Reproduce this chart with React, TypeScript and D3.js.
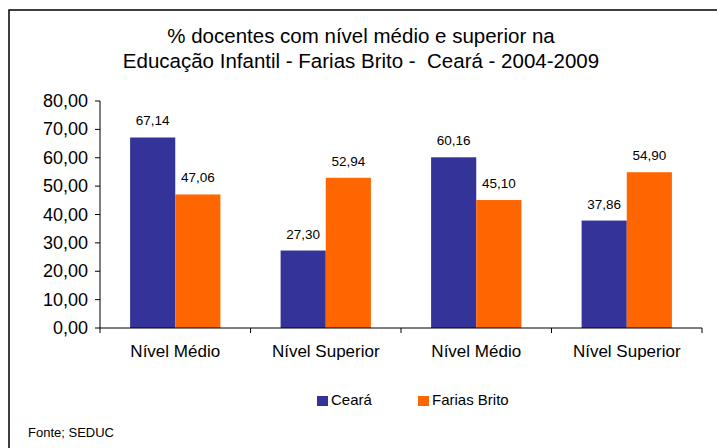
import React from "react";
import * as d3 from "d3";

const categories = ["Nível Médio", "Nível Superior", "Nível Médio", "Nível Superior"];
const seriesNames = ["Ceará", "Farias Brito"];
const cearaValues = [67.14, 27.3, 60.16, 37.86];
const fariasBritoValues = [47.06, 52.94, 45.1, 54.9];
const yTicks = [0, 10, 20, 30, 40, 50, 60, 70, 80];
const colors = ["#333399", "#FF6600"];
const titleLines = [
  "% docentes com nível médio e superior na",
  "Educação Infantil - Farias Brito -  Ceará - 2004-2009",
];
const sourceText = "Fonte; SEDUC";

const FONT = "'Liberation Sans', Arial, Helvetica, sans-serif";
const fmt = (v: number) => v.toFixed(2).replace(".", ",");

export default function App() {
  const W = 717, H = 448;
  const left = 100, right = 702, top = 101, bottom = 328;
  const idx = categories.map((_, i) => String(i));
  const x0 = d3.scaleBand<string>().domain(idx).range([left, right]).paddingInner(0.4).paddingOuter(0.2);
  const x1 = d3.scaleBand<string>().domain(seriesNames).range([0, x0.bandwidth()]);
  const y = d3.scaleLinear().domain([0, 80]).range([bottom, top]);
  const step = x0.step();
  const boundaries = idx.map((k) => (x0(k) as number) - step * 0.2).concat([right]);
  const series = [cearaValues, fariasBritoValues];

  return (
    <svg width={W} height={H} style={{ position: "absolute", left: 0, top: 0, background: "#fff" }} fontFamily={FONT}>
      <rect x={0} y={0} width={W} height={H} fill="#fff" />
      <rect x={9} y={10} width={W + 20} height={H + 20} fill="none" stroke="#000" strokeWidth={1.5} />
      {titleLines.map((t, i) => (
        <text key={i} x={361} y={43 + i * 25} textAnchor="middle" fontSize={20.5} fill="#000" style={{ whiteSpace: "pre" }}>{t}</text>
      ))}
      {/* y axis */}
      <line x1={left} x2={left} y1={y(80)} y2={y(0)} stroke="#000" strokeWidth={1} />
      {yTicks.map((t) => (
        <g key={t}>
          <line x1={left - 5} x2={left} y1={y(t)} y2={y(t)} stroke="#000" />
          <text x={88} y={y(t) + 6} textAnchor="end" fontSize={18} fill="#000">{fmt(t)}</text>
        </g>
      ))}
      {/* bars */}
      {idx.map((k, i) =>
        seriesNames.map((s, j) => {
          const v = series[j][i];
          const bx = (x0(k) as number) + (x1(s) as number);
          return (
            <g key={k + s}>
              <rect x={bx} y={y(v)} width={x1.bandwidth()} height={y(0) - y(v)} fill={colors[j]} />
              <text x={bx + x1.bandwidth() / 2} y={y(v) - 12} textAnchor="middle" fontSize={13.5} fill="#000">{fmt(v)}</text>
            </g>
          );
        })
      )}
      {/* x axis */}
      <line x1={left} x2={right} y1={bottom} y2={bottom} stroke="#000" strokeWidth={1} />
      {boundaries.map((b, i) => (
        <line key={i} x1={b} x2={b} y1={bottom} y2={bottom + 5} stroke="#000" />
      ))}
      {idx.map((k, i) => (
        <text key={k} x={(x0(k) as number) + x0.bandwidth() / 2} y={357} textAnchor="middle" fontSize={17} fill="#000">{categories[i]}</text>
      ))}
      {/* legend */}
      {seriesNames.map((s, j) => {
        const lx = j === 0 ? 317 : 418;
        return (
          <g key={s}>
            <rect x={lx} y={396} width={11} height={10} fill={colors[j]} />
            <text x={lx + 14} y={405} fontSize={15} fill="#000">{s}</text>
          </g>
        );
      })}
      <text x={28} y={437} fontSize={13} fill="#000">{sourceText}</text>
    </svg>
  );
}
